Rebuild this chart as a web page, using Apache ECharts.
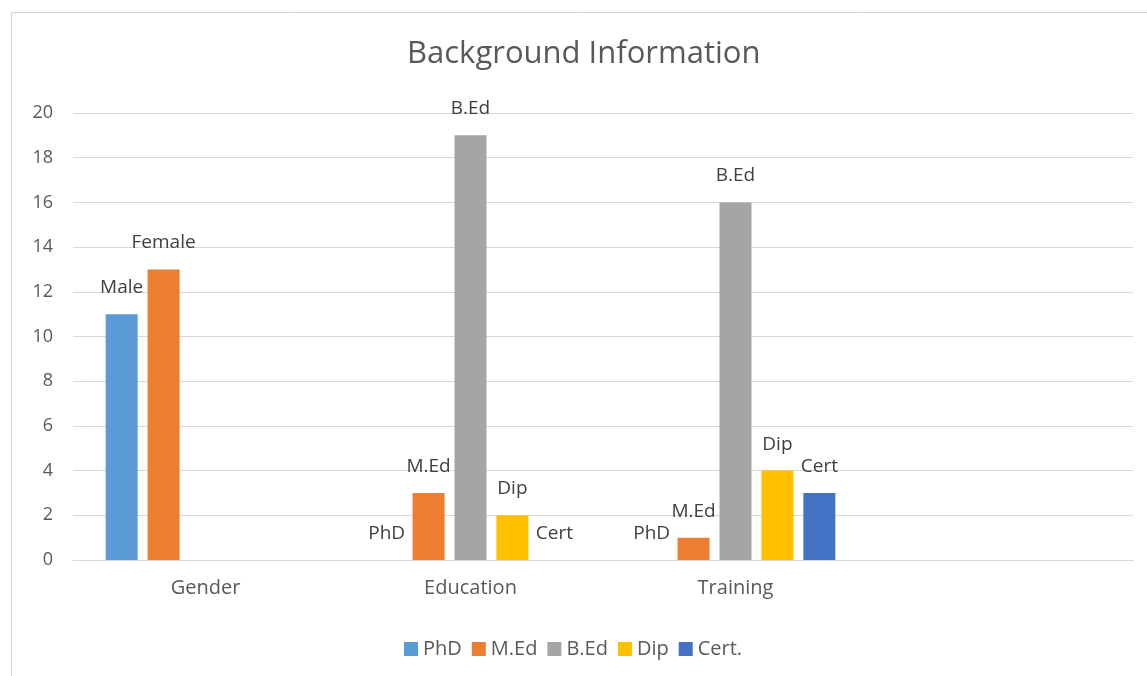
<!DOCTYPE html>
<html>
<head>
<meta charset="utf-8">
<title>Background Information</title>
<script src="https://cdn.jsdelivr.net/npm/echarts@6/dist/echarts.min.js"></script>
<style>
  html, body { margin: 0; padding: 0; background: #ffffff; }
  #chart { width: 1147px; height: 676px; }
</style>
</head>
<body>
<div id="chart"></div>
<script>
// Groups along the x axis (the last slot is left empty)
const categories = ['Gender', 'Education', 'Training', ''];

// Counts per group for each qualification series
const phdValues  = [11, 0, 0, '-'];
const medValues  = [13, 3, 1, '-'];
const bedValues  = ['-', 19, 16, '-'];
const dipValues  = ['-', 2, 4, '-'];
const certValues = ['-', 0, 3, '-'];

// Text shown above each bar
const phdLabels  = ['Male', 'PhD', 'PhD', ''];
const medLabels  = ['Female', 'M.Ed', 'M.Ed', ''];
const bedLabels  = ['', 'B.Ed', 'B.Ed', ''];
const dipLabels  = ['', 'Dip', 'Dip', ''];
const certLabels = ['', 'Cert', 'Cert', ''];

const seriesNames = ['PhD', 'M.Ed', 'B.Ed', 'Dip', 'Cert.'];
const seriesColors = ['#5B9BD5', '#ED7D31', '#A5A5A5', '#FFC000', '#4472C4'];
const yTicks = [0, 2, 4, 6, 8, 10, 12, 14, 16, 18, 20];

const FONT = '"Open Sans", "Noto Sans", sans-serif';

function makeSeries(name, values, labels, color) {
  return {
    name: name,
    type: 'bar',
    data: values,
    barWidth: 32,
    barGap: '31%',
    itemStyle: { color: color },
    label: {
      show: true,
      position: 'top',
      distance: 17,
      color: '#404040',
      fontFamily: FONT,
      fontSize: 19,
      formatter: p => labels[p.dataIndex]
    }
  };
}

const chart = echarts.init(document.getElementById('chart'), null, { renderer: 'canvas' });

chart.setOption({
  animation: false,
  backgroundColor: '#ffffff',
  graphic: [{
    type: 'rect',
    shape: { x: 11.5, y: 12.5, width: 1160, height: 700 },
    style: { fill: 'none', stroke: '#d4d4d4', lineWidth: 1 },
    silent: true
  }],
  title: {
    text: 'Background Information',
    left: 402,
    top: 34,
    textStyle: {
      fontFamily: FONT,
      fontSize: 31,
      fontWeight: 'normal',
      color: '#595959'
    }
  },
  legend: {
    data: seriesNames,
    left: 399,
    top: 634,
    itemWidth: 14,
    itemHeight: 14,
    itemGap: 10,
    icon: 'rect',
    textStyle: { fontFamily: FONT, fontSize: 20, color: '#595959' }
  },
  grid: { left: 73, right: 14, top: 113, bottom: 116, containLabel: false },
  xAxis: {
    type: 'category',
    data: categories,
    axisLine: { show: true, lineStyle: { color: '#d9d9d9', width: 1 } },
    axisTick: { show: false },
    axisLabel: { fontFamily: FONT, fontSize: 20, color: '#595959', margin: 18 }
  },
  yAxis: {
    type: 'value',
    min: yTicks[0],
    max: yTicks[yTicks.length - 1],
    interval: 2,
    axisLine: { show: false },
    axisTick: { show: false },
    splitLine: { lineStyle: { color: '#d9d9d9', width: 1 } },
    axisLabel: { fontFamily: FONT, fontSize: 18, color: '#595959', margin: 20 }
  },
  series: [
    makeSeries(seriesNames[0], phdValues, phdLabels, seriesColors[0]),
    makeSeries(seriesNames[1], medValues, medLabels, seriesColors[1]),
    makeSeries(seriesNames[2], bedValues, bedLabels, seriesColors[2]),
    makeSeries(seriesNames[3], dipValues, dipLabels, seriesColors[3]),
    makeSeries(seriesNames[4], certValues, certLabels, seriesColors[4])
  ]
});
</script>
</body>
</html>
